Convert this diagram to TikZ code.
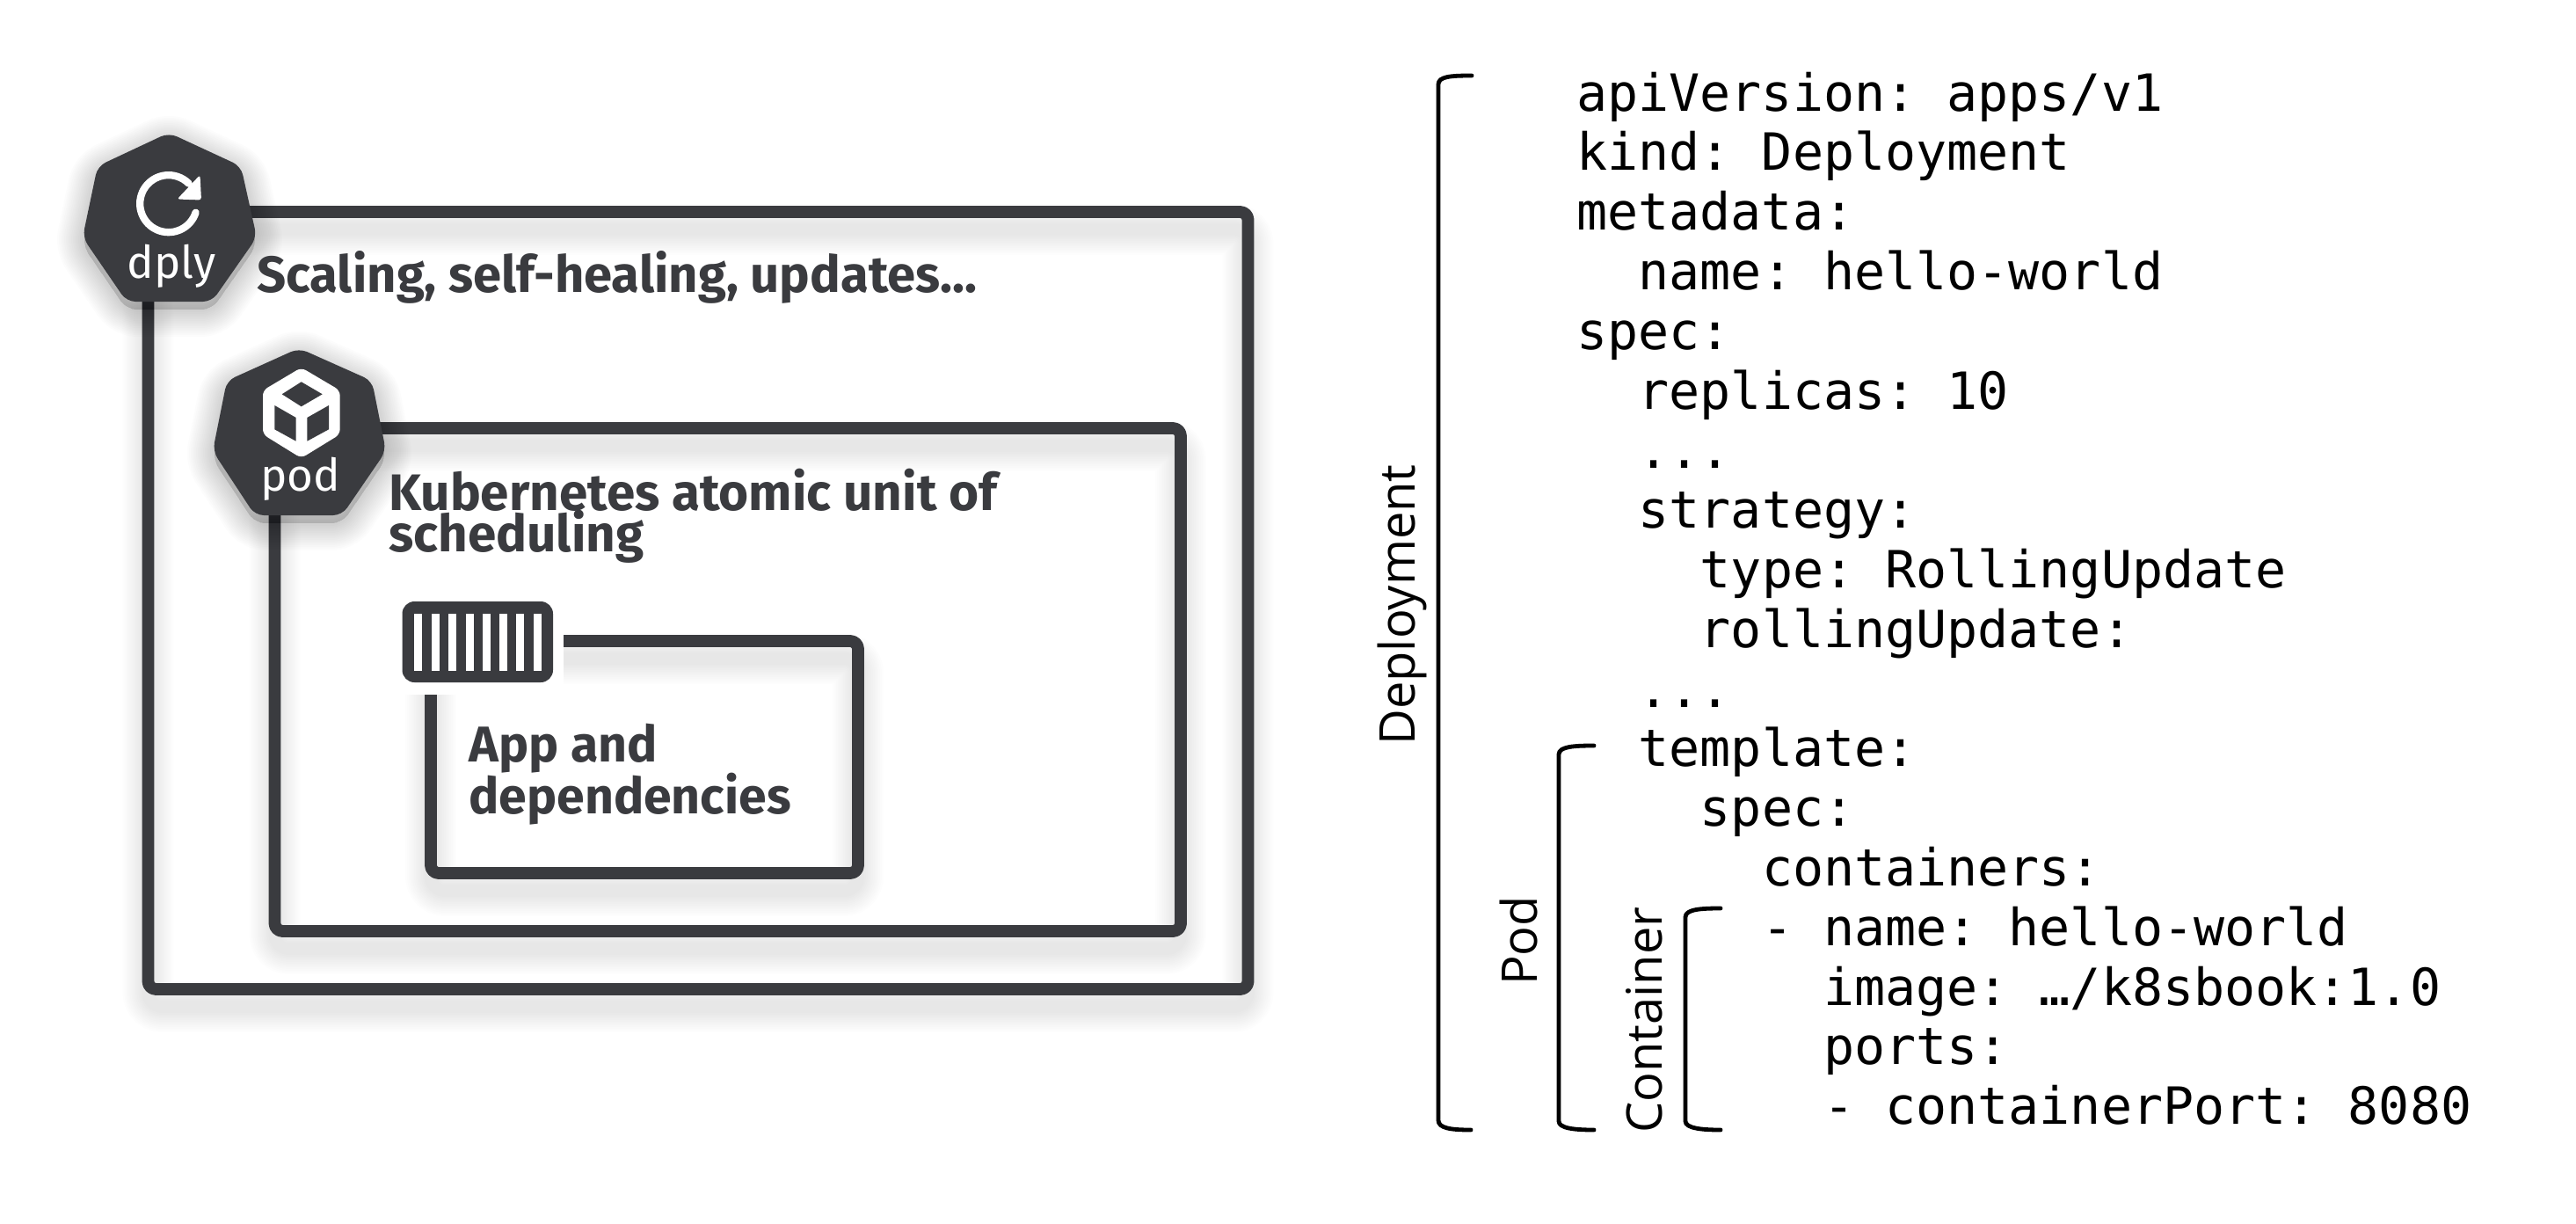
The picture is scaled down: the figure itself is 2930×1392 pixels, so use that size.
\documentclass[tikz,border=0pt]{standalone}
\usepackage{fontspec}
\setmainfont{Open Sans}
\newfontfamily\codefont{DejaVu Sans Mono}
\newfontfamily\headfont{Fira Sans}[UprightFont=* Bold]
\newfontfamily\hexfont{Fira Sans}
\newfontfamily\sidefont{Open Sans}
\definecolor{ink}{HTML}{3A3B3F}
\frenchspacing
\tikzset{
  boxline/.style={draw=ink,line width=6.9pt,line join=round,rounded corners=4.5pt},
  hexfill/.style={fill=ink,rounded corners=5pt},
  headtext/.style={anchor=base west,inner sep=0pt,text=ink,font=\headfont\fontsize{#1}{#1}\selectfont},
  hextext/.style={anchor=base,inner sep=0pt,text=white,font=\hexfont\fontsize{25.6}{27}\selectfont},
  codetext/.style={anchor=base west,inner sep=0pt,text=black,font=\codefont\fontsize{29.15}{30}\selectfont},
  sidetext/.style={rotate=90,inner sep=0pt,text=black,font=\sidefont\fontsize{#1}{#1}\selectfont},
  bracketline/.style={draw=black,line width=2.4pt,line cap=round,line join=round},
  shadowline/.style={draw=black,opacity=.006,line join=round,rounded corners=8pt}
}
\newcommand{\softshadow}[1]{%
  \foreach \w in {7,9,11,13,15,17,19,21,23,25,27,29}{
    \draw[shadowline,line width=\w pt,shift={(0,20)}] #1;
  }}
\newcommand{\hexshadow}[1]{%
  \foreach \w in {1,3,5,7,9,11,13,15,17,19,21,23,25,27,29,31}{
    \filldraw[fill=black,draw=black,opacity=.013,line join=round,rounded corners=6pt,line width=\w pt,shift={(0,9)}] #1;
  }}
\newcommand{\codeline}[3]{\node[codetext] (line#1) at ({1793+70.2*#2},{126+67.8*#1}) {#3};}
\begin{document}
\begin{tikzpicture}[x=0.5pt,y=-0.5pt]
\useasboundingbox (0,0) rectangle (2930,1392);
% shadows
\softshadow{(168.5,241) rectangle (1419.5,1125)}
\softshadow{(312.5,487) rectangle (1343,1059)}
\softshadow{(490,729) rectangle (976,993)}
% boxes
\draw[boxline] (168.5,241) rectangle (1419.5,1125);
\draw[boxline] (312.5,487) rectangle (1343,1059);
\draw[boxline] (490,729) rectangle (976,993);
% container icon
\fill[white] (445,672) rectangle (641,790);
\fill[ink,rounded corners=7pt] (457.5,684) rectangle (629,776);
\foreach \x in {471,490.5,510,529.5,548.5,568,587,607}{
  \fill[white] (\x,698) rectangle ++(9,65);
}
% dply hexagon
\hexshadow{(192,151) -- (274,189) -- (292,270) -- (241,343) -- (144,343) -- (94,270) -- (111,189) -- cycle}
\fill[hexfill] (192,151) -- (274,189) -- (292,270) -- (241,343) -- (144,343) -- (94,270) -- (111,189) -- cycle;
\draw[white,line width=4.15pt,line cap=round] (222.6,241.7) arc[start angle=18,end angle=315,radius=32.5];
\fill[white,rounded corners=1.5pt] (227.5,199) -- (229,227.5) -- (201.5,226.5) -- cycle;
\node[hextext] (dply) at (195,316) {dply};
% pod hexagon
\hexshadow{(340,396) -- (423,433) -- (439,513) -- (389,586) -- (290,586) -- (242,513) -- (258,433) -- cycle}
\fill[hexfill] (340,396) -- (423,433) -- (439,513) -- (389,586) -- (290,586) -- (242,513) -- (258,433) -- cycle;
\fill[white,rounded corners=3pt] (342.7,418) -- (386.7,444) -- (386.7,494) -- (342.7,521) -- (299,494) -- (299,444) -- cycle;
\fill[ink] (342.7,434.3) -- (366.7,448.3) -- (342.7,462.3) -- (320.7,448.3) -- cycle;
\fill[ink] (312.3,461) -- (336.7,475) -- (336.7,501.7) -- (312.3,488.3) -- cycle;
\fill[ink] (374,461) -- (349.3,475) -- (349.3,501.7) -- (374,488.3) -- cycle;
\node[hextext] (pod) at (342,558.5) {pod};
% captions
\node[headtext=29] (t1) at (292,332) {Scaling, self-healing, updates...};
\node[headtext=29.2] (t2) at (442,580) {Kubernetes atomic unit of};
\node[headtext=29.2] (t3) at (442,627) {scheduling};
\node[headtext=28.6] (t4) at (533,866) {App and};
\node[headtext=28.6] (t5) at (533,925) {dependencies};
% code
\codeline{0}{0}{apiVersion: apps/v1}
\codeline{1}{0}{kind: Deployment}
\codeline{2}{0}{metadata:}
\codeline{3}{1}{name: hello-world}
\codeline{4}{0}{spec:}
\codeline{5}{1}{replicas: 10}
\codeline{6}{1}{...}
\codeline{7}{1}{strategy:}
\codeline{8}{2}{type: RollingUpdate}
\codeline{9}{2}{rollingUpdate:}
\codeline{10}{1}{...}
\codeline{11}{1}{template:}
\codeline{12}{2}{spec:}
\codeline{13}{3}{containers:}
\codeline{14}{3}{- name: hello-world}
\codeline{15}{4}{image: …/k8sbook:1.0}
\codeline{16}{4}{ports:}
\codeline{17}{4}{- containerPort: 8080}
% brackets
\draw[bracketline] (1674,86) .. controls (1650,86) and (1636,87) .. (1636,96) -- (1636,1274) .. controls (1636,1283) and (1650,1285) .. (1673,1285);
\draw[bracketline] (1813,848) .. controls (1790,848) and (1773,849) .. (1773,858) -- (1773,1275) .. controls (1773,1283) and (1790,1285) .. (1813,1285);
\draw[bracketline] (1957,1033) .. controls (1935,1033) and (1917,1034) .. (1917,1043) -- (1917,1275) .. controls (1917,1283) and (1935,1285) .. (1957,1285);
% side labels
\node[sidetext=28] (dep) at (1595,688) {Deployment};
\node[sidetext=28] (podl) at (1727,1070) {Pod};
\node[sidetext=28] (con) at (1870,1160) {Container};
\end{tikzpicture}
\end{document}
